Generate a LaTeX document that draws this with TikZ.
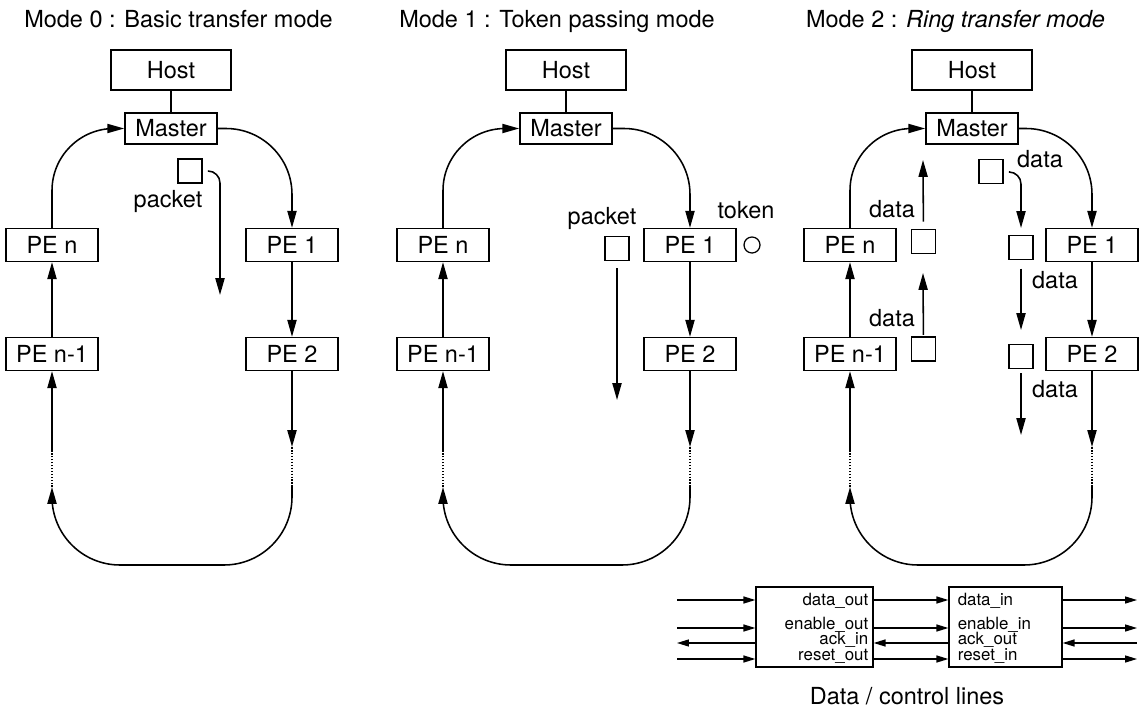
\documentclass[tikz,border=0pt]{standalone}
\usepackage{fontspec}
\setmainfont{TeX Gyre Heros}
\usetikzlibrary{arrows.meta}

\begin{document}
\begin{tikzpicture}[x=0.025cm,y=-0.025cm,line width=1.1pt,
  font=\fontsize{16.7}{20}\selectfont,
  arr/.style={-{Triangle[length=12pt,width=6.5pt]}},
  sarr/.style={line width=0.9pt,-{Triangle[length=8.5pt,width=5pt]}},
  sarrl/.style={line width=0.9pt,{Triangle[length=8.5pt,width=5pt]}-},
  box/.style={draw,inner sep=0pt,minimum width=2.3cm,minimum height=0.82cm},
  hostbox/.style={box,minimum width=3cm,minimum height=1cm},
  pkt/.style={draw,inner sep=0pt,minimum size=0.6cm},
  io/.style={draw,line width=0.9pt,inner sep=0pt,minimum height=2cm},
  sig/.style={font=\fontsize{12}{13}\selectfont,inner sep=0pt}]
\useasboundingbox (0,0) rectangle (1139,710);

\node[anchor=base] (t0) at (178.5,27) {Mode 0 : Basic transfer mode};
\node[anchor=base] (t1) at (557,27) {Mode 1 : Token passing mode};
\node[anchor=base] (t2) at (955.5,27) {Mode 2 : \textit{Ring transfer mode}};

\foreach \p/\hx/\lx/\rx in {a/171/52/292, b/566/443/690, c/972/850/1092} {
  \node[hostbox] (\p-host) at (\hx,70) {Host};
  \node[box,minimum height=0.78cm] (\p-master) at (\hx,128.5) {Master};
  \node[box] (\p-pen) at (\lx,245) {PE n};
  \node[box] (\p-pe1) at (\rx,245) {PE 1};
  \node[box] (\p-penm) at (\lx,354) {PE n-1};
  \node[box] (\p-pe2) at (\rx,354) {PE 2};
  \coordinate (\p-rd) at (\rx,447);
  \coordinate (\p-rb) at (\rx,487);
  \coordinate (\p-lb) at (\lx,487);
  \coordinate (\p-ld) at (\lx,450);
  \draw (\p-host) -- (\p-master);
  \draw[arr,rounded corners=1.55cm] (\p-pen.north) |- (\p-master.west);
  \draw[arr,rounded corners=1.65cm] (\p-master.east) -| (\p-pe1.north);
  \draw[arr] (\p-pe1) -- (\p-pe2);
  \draw[arr] (\p-penm) -- (\p-pen);
  \draw[arr] (\p-pe2) -- (\p-rd);
  \draw[densely dotted] (\p-rd) -- (\p-rb);
  \draw[arr,rounded corners=1.7cm] (\p-rb) -- (\rx,565) -- (\lx,565) -- (\p-lb);
  \draw[densely dotted] (\p-lb) -- (\p-ld);
  \draw[arr] (\p-ld) -- (\p-penm);
}

% mode 0
\node[pkt] (a-pkt) at (190,171) {};
\node (a-pktlbl) at (168,201) {packet};
\coordinate (a-h1) at (208,171);
\coordinate (a-h2) at (220,295);
\draw[arr,rounded corners=0.3cm] (a-h1) -| (a-h2);

% mode 1
\node (b-pktlbl) at (602,218) {packet};
\node[pkt] (b-pkt) at (617,248.5) {};
\coordinate (b-h2) at (617,400);
\draw[arr,shorten <=5pt] (b-pkt) -- (b-h2);
\node (b-toklbl) at (746,210) {token};
\node[draw,circle,line width=0.9pt,inner sep=0pt,minimum size=0.4cm] (b-tok) at (752,245) {};

% mode 2
\node[pkt] (c-s1) at (923.5,241.5) {};
\node[pkt] (c-s2) at (923.5,349) {};
\node[pkt] (c-s3) at (991,171.5) {};
\node[pkt] (c-s4) at (1021,247.5) {};
\node[pkt] (c-s5) at (1021,356.5) {};
\coordinate (c-u1) at (923,160);
\coordinate (c-u2) at (923,273);
\coordinate (c-h1) at (1010,172);
\coordinate (c-d0) at (1021,228);
\coordinate (c-d1) at (1021,330);
\coordinate (c-d2) at (1021,435);
\draw[arr,shorten <=5pt] (c-s1) -- (c-u1);
\draw[arr,shorten <=1pt] (c-s2) -- (c-u2);
\draw[arr,rounded corners=0.3cm] (c-h1) -| (c-d0);
\draw[arr,shorten <=6pt] (c-s4) -- (c-d1);
\draw[arr,shorten <=3pt] (c-s5) -- (c-d2);
\node (c-l1) at (892,209) {data};
\node (c-l2) at (892,318) {data};
\node (c-l3) at (1040,159) {data};
\node (c-l4) at (1055,280) {data};
\node (c-l5) at (1055,389) {data};

% data / control lines
\node[io,minimum width=2.925cm] (dl) at (814.5,627) {};
\node[io,minimum width=2.825cm] (dr) at (1005.5,627) {};
\coordinate (inl) at (677,627);
\coordinate (outr) at (1137,627);
\foreach \y/\s in {600/sarr,628/sarr,643/sarrl,659/sarr} {
  \draw[\s] (inl |- 0,\y) -- (dl.west |- 0,\y);
  \draw[\s] (dl.east |- 0,\y) -- (dr.west |- 0,\y);
  \draw[\s] (dr.east |- 0,\y) -- (outr |- 0,\y);
}
\node[sig,anchor=base east] (o1) at (869,605) {data\_out};
\node[sig,anchor=base east] (o2) at (869,629) {enable\_out};
\node[sig,anchor=base east] (o3) at (869,644) {ack\_in};
\node[sig,anchor=base east] (o4) at (869,660) {reset\_out};
\node[sig,anchor=base west] (i1) at (957,605) {data\_in};
\node[sig,anchor=base west] (i2) at (957,629) {enable\_in};
\node[sig,anchor=base west] (i3) at (957,644) {ack\_out};
\node[sig,anchor=base west] (i4) at (957,660) {reset\_in};
\node[anchor=base] (cap) at (907,704) {Data / control lines};
\end{tikzpicture}
\end{document}
